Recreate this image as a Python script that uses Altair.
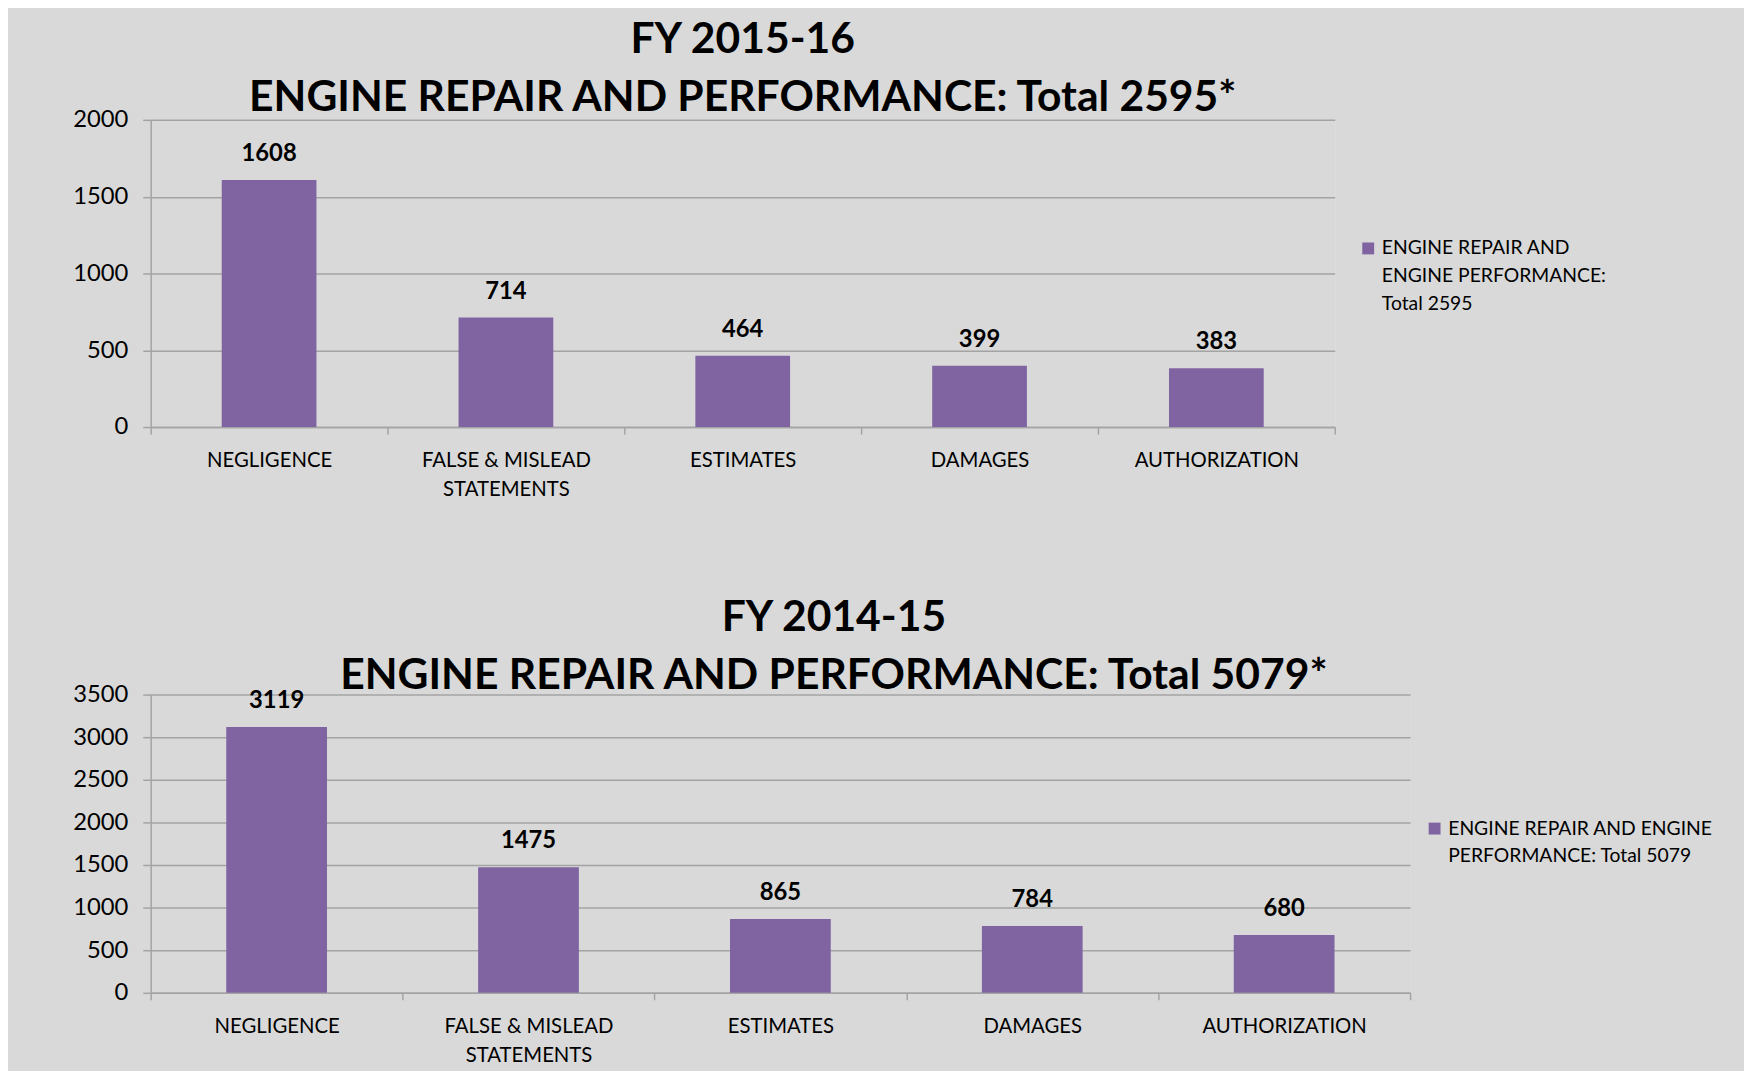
import altair as alt
import pandas as pd

CATEGORIES = ["NEGLIGENCE", "FALSE & MISLEAD STATEMENTS", "ESTIMATES", "DAMAGES", "AUTHORIZATION"]
VALUES_2015_16 = [1608, 714, 464, 399, 383]
VALUES_2014_15 = [3119, 1475, 865, 784, 680]
TITLE_2015_16 = ["FY 2015-16", "ENGINE REPAIR AND PERFORMANCE: Total 2595*"]
TITLE_2014_15 = ["FY 2014-15", "ENGINE REPAIR AND PERFORMANCE: Total 5079*"]
LEGEND_2015_16 = ["ENGINE REPAIR AND", "ENGINE PERFORMANCE:", "Total 2595"]
LEGEND_2014_15 = ["ENGINE REPAIR AND ENGINE", "PERFORMANCE: Total 5079"]
Y_TICKS_2015_16 = [0, 500, 1000, 1500, 2000]
Y_TICKS_2014_15 = [0, 500, 1000, 1500, 2000, 2500, 3000, 3500]

FONT = "Lato"
PURPLE = "#8064a2"
GRID = "#a3a3a3"


def panel(values, title, legend_lines, yticks, width, height, legend_x, legend_y,
          title_dx, title_offset, y_min_extent):
    df = pd.DataFrame({
        "category": CATEGORIES,
        "value": values,
        "series": "|".join(legend_lines),
    })
    x = alt.X(
        "category:N", sort=CATEGORIES, title=None,
        scale=alt.Scale(paddingInner=0, paddingOuter=0),
        axis=alt.Axis(
            labelAngle=0, tickBand="extent", grid=False,
            labelExpr="split(replace(datum.label, ' STATEMENTS', '|STATEMENTS'), '|')",
            labelFont=FONT, labelFontSize=20.5, labelColor="#000000",
            labelLineHeight=29, labelPadding=17,
            tickSize=7, tickColor=GRID, tickWidth=1.5,
            domainColor=GRID, domainWidth=1.5,
        ),
    )
    y = alt.Y(
        "value:Q", title=None,
        scale=alt.Scale(domain=[yticks[0], yticks[-1]], nice=False),
        axis=alt.Axis(
            values=yticks, format="d", grid=True, gridColor=GRID, gridWidth=1.5,
            labelFont=FONT, labelFontSize=24, labelColor="#000000",
            labelPadding=15, tickSize=8, tickColor=GRID, tickWidth=1.5,
            domainColor=GRID, domainWidth=1.5, minExtent=y_min_extent,
        ),
    )
    bars = alt.Chart(df).mark_bar(width=alt.RelativeBandSize(0.4)).encode(
        x=x, y=y,
        color=alt.Color(
            "series:N", scale=alt.Scale(range=[PURPLE]),
            legend=alt.Legend(
                title=None, orient="none", legendX=legend_x, legendY=legend_y,
                labelExpr="split(datum.label, '|')",
                labelFont=FONT, labelFontSize=19.5, labelColor="#000000",
                labelLimit=500, labelBaseline="middle",
                symbolType="square", symbolSize=144, symbolStrokeWidth=0,
                symbolOpacity=1, labelOffset=4,
            ),
        ),
    )
    text = alt.Chart(df).mark_text(
        baseline="bottom", dy=-14, font=FONT, fontSize=24, fontWeight="bold", color="#000000"
    ).encode(
        x=alt.X("category:N", sort=CATEGORIES),
        y=alt.Y("value:Q"),
        text=alt.Text("value:Q"),
    )
    return alt.layer(bars, text).properties(
        width=width, height=height,
        title=alt.TitleParams(
            text=title, font=FONT, fontSize=43, fontWeight="bold", color="#000000",
            lineHeight=58, anchor="middle", frame="group", offset=title_offset, dx=title_dx,
        ),
    )


top = panel(VALUES_2015_16, TITLE_2015_16, LEGEND_2015_16, Y_TICKS_2015_16,
            1195, 310, 1219, 120, 0, -12, 30)
bottom = panel(VALUES_2014_15, TITLE_2014_15, LEGEND_2014_15, Y_TICKS_2014_15,
               1271, 301, 1286, 125.5, 54, -15, 86)

chart = alt.concat(top, bottom, columns=1, spacing=97).resolve_scale(
    color="independent", y="independent", x="independent"
).resolve_legend(color="independent").properties(
    background="#d9d9d9",
    padding={"top": 6, "left": 57, "right": 30, "bottom": 0},
).configure_view(stroke=None).configure(
    style={"guide-label": {"lineHeight": 28}}
)

chart.save("out.html", embed_options={"renderer": "svg", "actions": False})
